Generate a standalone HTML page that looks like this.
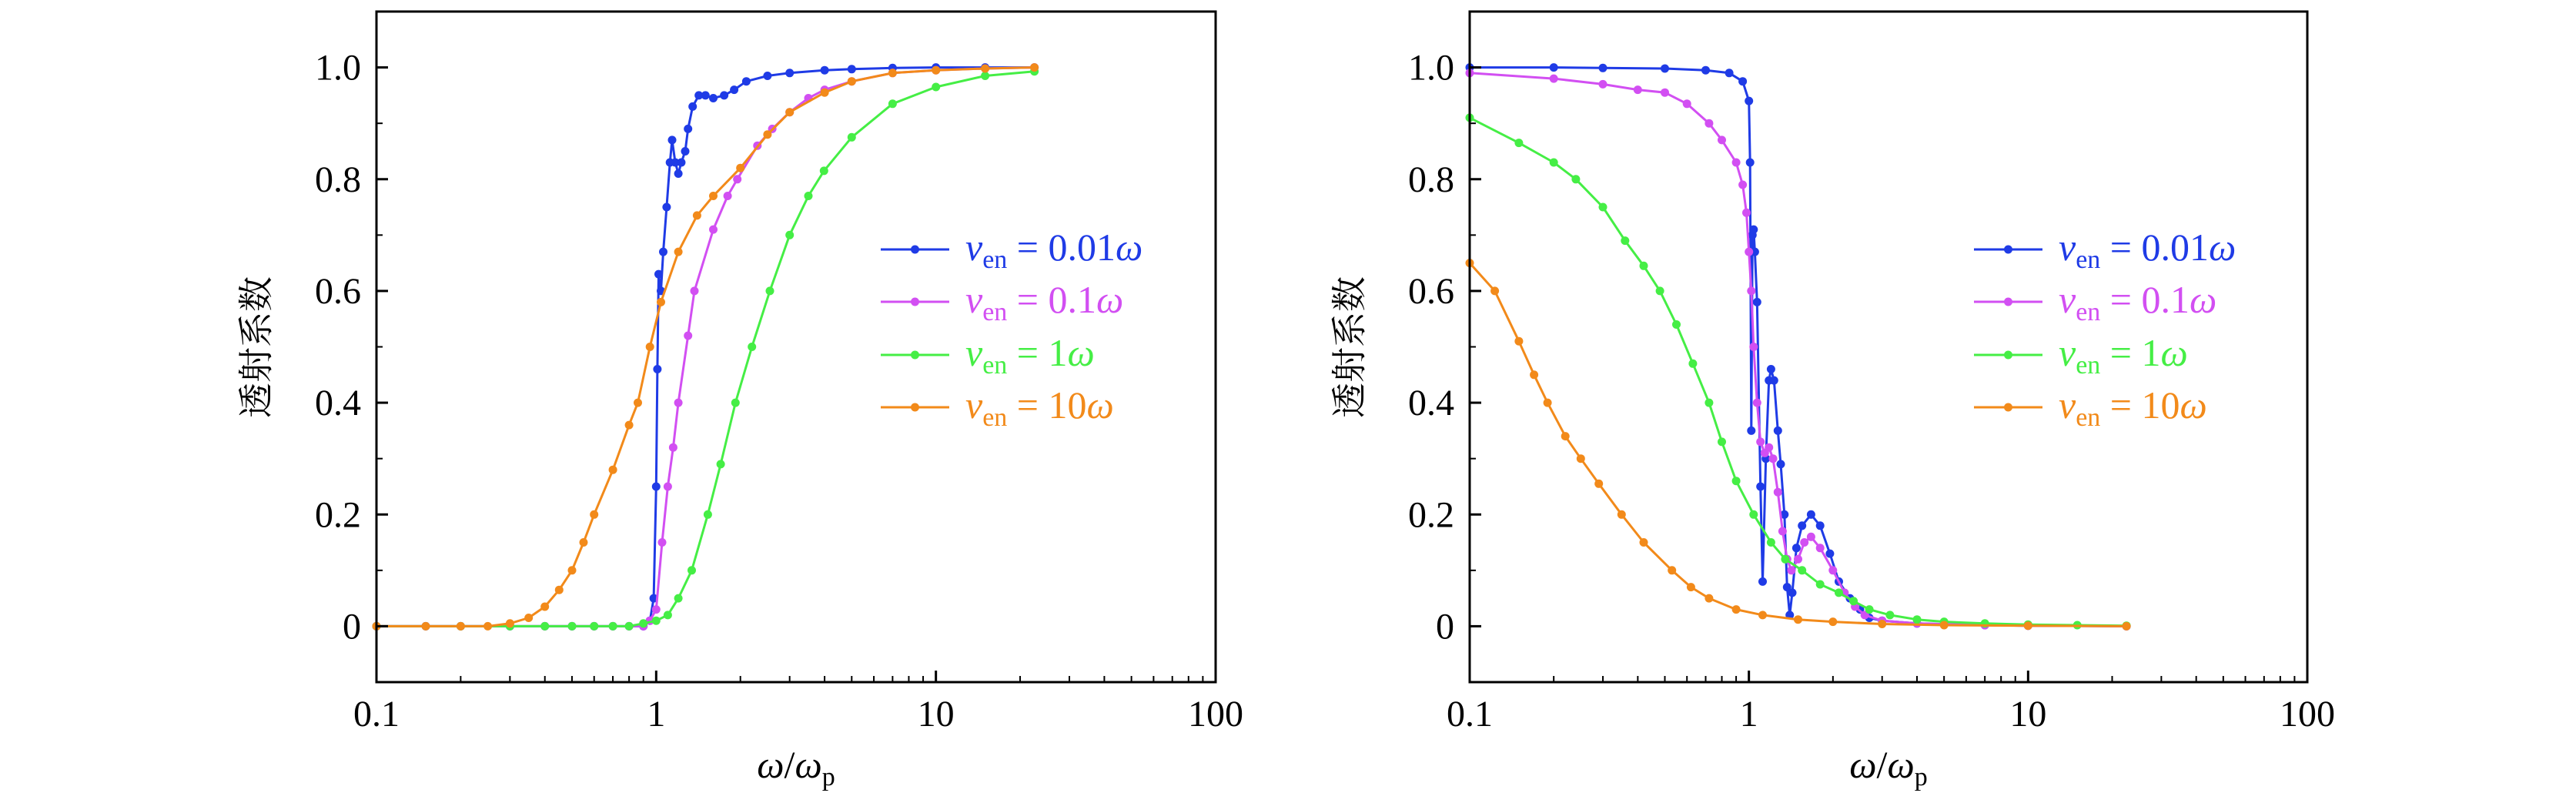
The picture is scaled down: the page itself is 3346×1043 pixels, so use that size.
<!DOCTYPE html>
<html><head><meta charset="utf-8">
<style>
html,body{margin:0;padding:0;background:#fff;}
svg{display:block;}
svg text{font-family:"Liberation Serif","Noto Serif CJK SC",serif;}
</style></head>
<body>
<svg id="chart" width="3346" height="1043" viewBox="0 0 3346 1043" font-family="'Liberation Serif', 'Noto Serif CJK SC', serif" xmlns="http://www.w3.org/2000/svg"></svg>
<script>
// ---- data ----
const seriesNames = ["0.01ω", "0.1ω", "1ω", "10ω"];
const seriesColors = ["#1f3be6", "#d24ff2", "#45ee45", "#f28a1a"];
const yTicks = [0, 0.2, 0.4, 0.6, 0.8, 1.0];
const yTickLabels = ["0", "0.2", "0.4", "0.6", "0.8", "1.0"];
const xTicks = [0.1, 1, 10, 100];
const xTickLabels = ["0.1", "1", "10", "100"];

// left panel
const L_blue_x = [0.1,0.15,0.2,0.3,0.4,0.5,0.6,0.7,0.8,0.9,0.95,0.98,1.0,1.01,1.02,1.04,1.06,1.09,1.12,1.14,1.17,1.2,1.23,1.27,1.3,1.35,1.42,1.5,1.6,1.75,1.9,2.1,2.5,3,4,5,7,10,15,22.5];
const L_blue_y = [0,0,0,0,0,0,0,0,0,0,0.01,0.05,0.25,0.46,0.63,0.6,0.67,0.75,0.83,0.87,0.83,0.81,0.83,0.85,0.89,0.93,0.95,0.95,0.945,0.95,0.96,0.975,0.985,0.99,0.995,0.997,0.999,1,1,1];
const L_mag_x = [0.1,0.2,0.3,0.4,0.5,0.6,0.7,0.8,0.9,0.95,1.0,1.05,1.1,1.15,1.2,1.3,1.37,1.6,1.8,1.95,2.3,2.6,3,3.5,4,5,7,10,15,22.5];
const L_mag_y = [0,0,0,0,0,0,0,0,0,0.01,0.03,0.15,0.25,0.32,0.4,0.52,0.6,0.71,0.77,0.8,0.86,0.89,0.92,0.945,0.96,0.975,0.99,0.995,0.998,1];
const L_grn_x = [0.1,0.2,0.3,0.4,0.5,0.6,0.7,0.8,0.9,1.0,1.1,1.2,1.34,1.53,1.7,1.92,2.2,2.55,3,3.5,3.98,5,7,10,15,22.5];
const L_grn_y = [0,0,0,0,0,0,0,0,0.005,0.01,0.02,0.05,0.1,0.2,0.29,0.4,0.5,0.6,0.7,0.77,0.815,0.875,0.935,0.965,0.985,0.993];
const L_org_x = [0.1,0.15,0.2,0.25,0.3,0.35,0.4,0.45,0.5,0.55,0.6,0.7,0.8,0.86,0.95,1.04,1.2,1.4,1.6,2,2.5,3,4,5,7,10,15,22.5];
const L_org_y = [0,0,0,0,0.005,0.015,0.035,0.065,0.1,0.15,0.2,0.28,0.36,0.4,0.5,0.58,0.67,0.735,0.77,0.82,0.88,0.92,0.955,0.975,0.99,0.995,0.998,1];

// right panel
const R_blue_x = [0.1,0.2,0.3,0.5,0.7,0.85,0.95,1.0,1.01,1.02,1.03,1.04,1.05,1.07,1.1,1.12,1.15,1.18,1.2,1.23,1.27,1.3,1.34,1.37,1.4,1.43,1.48,1.55,1.67,1.8,1.95,2.1,2.3,2.5,2.7,3,4,7,10,22.5];
const R_blue_y = [1.0,1.0,0.999,0.998,0.995,0.99,0.975,0.94,0.83,0.35,0.7,0.71,0.67,0.58,0.25,0.08,0.3,0.44,0.46,0.44,0.35,0.29,0.2,0.07,0.02,0.06,0.14,0.18,0.2,0.18,0.13,0.08,0.05,0.03,0.015,0.01,0.005,0.002,0.001,0];
const R_mag_x = [0.1,0.2,0.3,0.4,0.5,0.6,0.72,0.8,0.9,0.95,0.98,1.0,1.02,1.04,1.07,1.1,1.14,1.18,1.22,1.27,1.32,1.37,1.42,1.5,1.58,1.67,1.8,2.0,2.2,2.4,2.6,3,4,7,10,22.5];
const R_mag_y = [0.99,0.98,0.97,0.96,0.955,0.935,0.9,0.87,0.83,0.79,0.74,0.67,0.6,0.5,0.4,0.33,0.31,0.32,0.3,0.24,0.17,0.12,0.1,0.12,0.15,0.16,0.14,0.1,0.06,0.035,0.02,0.01,0.005,0.002,0.001,0];
const R_grn_x = [0.1,0.15,0.2,0.24,0.3,0.36,0.42,0.48,0.55,0.63,0.72,0.8,0.9,1.04,1.2,1.35,1.55,1.8,2.1,2.37,2.7,3.2,4,5,7,10,15,22.5];
const R_grn_y = [0.91,0.865,0.83,0.8,0.75,0.69,0.645,0.6,0.54,0.47,0.4,0.33,0.26,0.2,0.15,0.12,0.1,0.075,0.06,0.045,0.03,0.02,0.012,0.008,0.005,0.003,0.002,0.001];
const R_org_x = [0.1,0.123,0.15,0.17,0.19,0.22,0.25,0.29,0.35,0.42,0.53,0.62,0.72,0.9,1.12,1.5,2,3,5,10,22.5];
const R_org_y = [0.65,0.6,0.51,0.45,0.4,0.34,0.3,0.255,0.2,0.15,0.1,0.07,0.05,0.03,0.02,0.012,0.008,0.004,0.002,0.001,0];

const panels = [
  {name:"left", x0:489, x1:1579, xs:[L_blue_x,L_mag_x,L_grn_x,L_org_x], ys:[L_blue_y,L_mag_y,L_grn_y,L_org_y]},
  {name:"right", x0:1909, x1:2997, xs:[R_blue_x,R_mag_x,R_grn_x,R_org_x], ys:[R_blue_y,R_mag_y,R_grn_y,R_org_y]}
];
const yTop = 15, yBot = 886, yMin = -0.1, yMax = 1.1;
const FONT = "'Liberation Serif', 'Noto Serif CJK SC', serif";
const NS = "http://www.w3.org/2000/svg";
const svg = document.getElementById('chart');
function mk(tag, attrs, parent){ const e=document.createElementNS(NS,tag); for(const k in attrs) e.setAttribute(k,attrs[k]); if(tag==='text') e.setAttribute('font-family',FONT); (parent||svg).appendChild(e); return e; }

panels.forEach(p=>{
  const sx = v => p.x0 + (Math.log10(v)+1)/3*(p.x1-p.x0);
  const sy = v => yBot - (v-yMin)/(yMax-yMin)*(yBot-yTop);
  const g = mk('g',{});
  
  
  p.xs.forEach((xa,i)=>{
    const sg = mk('g',{},g);
    
    
    const d = xa.map((x,j)=>(j?'L':'M')+sx(x).toFixed(1)+','+sy(p.ys[i][j]).toFixed(1)).join(' ');
    const path = mk('path',{d:d,fill:'none',stroke:seriesColors[i],'stroke-width':3,'stroke-linejoin':'round'},sg);
    
    
    xa.forEach((x,j)=>{
      const c = mk('circle',{cx:sx(x).toFixed(1),cy:sy(p.ys[i][j]).toFixed(1),r:5.5,fill:seriesColors[i]},sg);
      
      
    });
  });
  const fr = mk('rect',{x:p.x0,y:yTop,width:p.x1-p.x0,height:yBot-yTop,fill:'none',stroke:'#000','stroke-width':3},g);
  
  
  yTicks.forEach((v,i)=>{
    mk('line',{x1:p.x0,x2:p.x0+15,y1:sy(v),y2:sy(v),stroke:'#000','stroke-width':3},g);
    const t = mk('text',{x:p.x0-20,y:sy(v)+16,'text-anchor':'end','font-size':48,fill:'#000'},g);
    t.textContent = yTickLabels[i];
    
    
    if(i<yTicks.length-1){ const m=v+0.1; mk('line',{x1:p.x0,x2:p.x0+8,y1:sy(m),y2:sy(m),stroke:'#000','stroke-width':2},g); }
  });
  mk('line',{x1:p.x0,x2:p.x0+8,y1:sy(-0.1),y2:sy(-0.1),stroke:'#000','stroke-width':2},g);
  xTicks.forEach((v,i)=>{
    mk('line',{x1:sx(v),x2:sx(v),y1:yBot,y2:yBot-15,stroke:'#000','stroke-width':3},g);
    const t = mk('text',{x:sx(v),y:943,'text-anchor':'middle','font-size':48,fill:'#000'},g);
    t.textContent = xTickLabels[i];
    
    
    if(i<xTicks.length-1){ for(let k=2;k<=9;k++){ const m=v*k; mk('line',{x1:sx(m),x2:sx(m),y1:yBot,y2:yBot-8,stroke:'#000','stroke-width':2},g); } }
  });
  const cx = (p.x0+p.x1)/2;
  const xt = mk('text',{x:cx,y:1010,'text-anchor':'middle','font-size':50,fill:'#000'},g);
  xt.innerHTML = '<tspan font-style="italic">ω</tspan>/<tspan font-style="italic">ω</tspan><tspan font-size="34" dy="10">p</tspan>';
  
  
  const yx = p.x0-151;
  const yt = mk('text',{x:yx,y:451,'text-anchor':'middle','font-size':46,fill:'#000',transform:'rotate(-90 '+yx+' 451)','dominant-baseline':'middle'},g);
  yt.textContent = '透射系数';
  
  
  const lx = p.x0+655;
  const rows = [324,392,461,529];
  seriesNames.forEach((n,i)=>{
    const lg = mk('g',{},g);
    
    
    mk('line',{x1:lx,x2:lx+89,y1:rows[i],y2:rows[i],stroke:seriesColors[i],'stroke-width':3},lg);
    mk('circle',{cx:lx+44.5,cy:rows[i],r:5.5,fill:seriesColors[i]},lg);
    const t = mk('text',{x:lx+110,y:rows[i]+14,'font-size':50,fill:seriesColors[i]},lg);
    t.innerHTML = '<tspan font-style="italic">ν</tspan><tspan font-size="34" dy="10">en</tspan><tspan dy="-10"> = '+n.replace('ω','')+'</tspan><tspan font-style="italic">ω</tspan>';
  });
});
</script>
</body></html>
